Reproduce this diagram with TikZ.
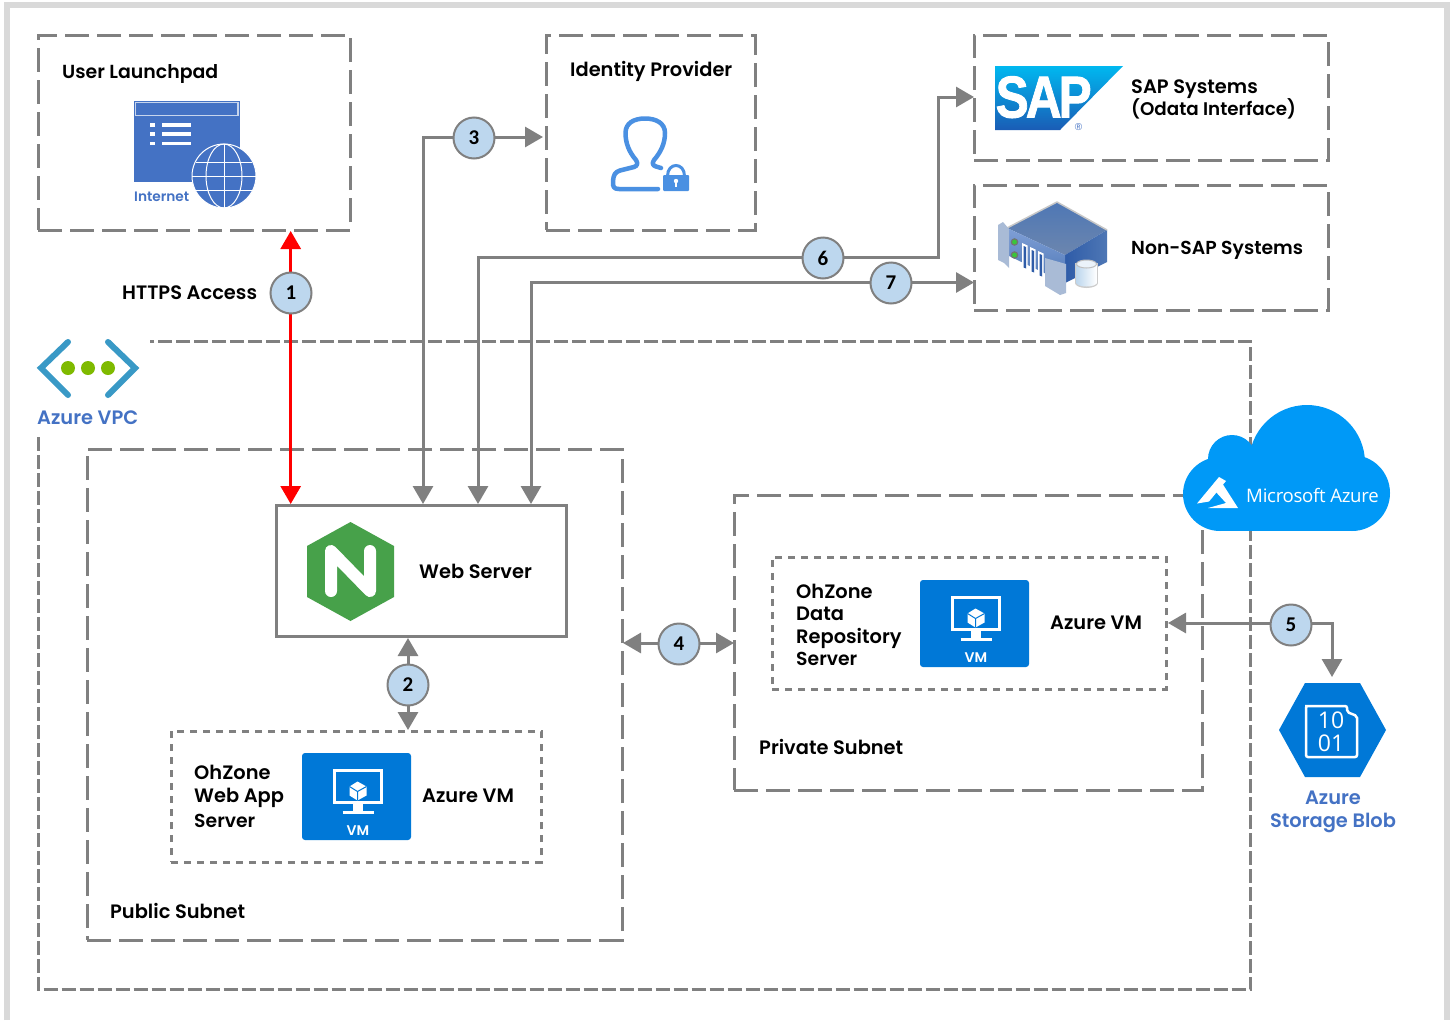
\documentclass[tikz,border=0pt]{standalone}
\usepackage{fontspec}
\setmainfont{Poppins SemiBold}
\newfontfamily\numfont{Carlito Bold}
\newfontfamily\msfont{Open Sans}
\newfontfamily\sapfont{Liberation Sans}
\usetikzlibrary{arrows.meta,calc}
\definecolor{cgray}{HTML}{808080}
\definecolor{ibluetext}{HTML}{4472C4}
\definecolor{azblue}{HTML}{0078D7}
\definecolor{cloudblue}{HTML}{0099F7}
\definecolor{numfill}{HTML}{BDD7EE}
\definecolor{lockblue}{HTML}{4A90E2}
\definecolor{vpcblue}{HTML}{3999C6}
\definecolor{vpcgreen}{HTML}{7FBA00}
\definecolor{nginxgreen}{HTML}{47A14A}
\definecolor{saptop}{HTML}{00B8F0}
\definecolor{sapbot}{HTML}{1A5CB5}
\definecolor{srvdark}{HTML}{2F5CA8}
\definecolor{srvmid}{HTML}{4E77B5}
\definecolor{srvtop}{HTML}{6C86AE}
\definecolor{srvfront}{HTML}{7F9FD6}
\definecolor{srvear}{HTML}{A9BBD6}
\tikzset{
  x=1pt,y=-1pt,
  zone/.style={draw=cgray,line width=3pt,dash pattern=on 24pt off 8pt,rectangle,inner sep=0pt,fill=none},
  dotzone/.style={draw=cgray,line width=3pt,dash pattern=on 7pt off 6pt,rectangle,inner sep=0pt},
  lbl/.style={anchor=base west,inner sep=0pt,font=\fontsize{19.4}{19.4}\selectfont,text=black},
  fs/.style={font=\fontsize{#1}{#1}\selectfont},
  bluelbl/.style={lbl,text=ibluetext},
  conn/.style={draw=cgray,line width=3pt,{Triangle[length=18pt,width=20pt]}-{Triangle[length=18pt,width=20pt]}},
  redconn/.style={draw=red,line width=3pt,{Triangle[length=18pt,width=20pt]}-{Triangle[length=18pt,width=20pt]}},
  num/.style={circle,draw=cgray,line width=2pt,fill=numfill,minimum size=41pt,inner sep=0pt,font=\numfont\fontsize{21}{21}\selectfont},
  vmicon/.pic={
    \fill[azblue,rounded corners=3pt] (-56.5,-43.5) rectangle (52.5,43.5);
    \draw[white,line width=3pt] (-24.5,-26.5) rectangle (23,6);
    \fill[white] (-6,7) rectangle (4,14);
    \draw[white,line width=3pt] (-16,16) -- (15,16);
    \fill[white] (-1,-15) -- (8,-10) -- (8,-1) -- (-1,4) -- (-9,-1) -- (-9,-10) -- cycle;
    \draw[azblue,line width=1pt] (-9,-10) -- (-1,-5) -- (8,-10) (-1,-5) -- (-1,4);
    \node[text=white,inner sep=0pt,font=\fontsize{14}{14}\selectfont] at (-0.5,34) {VM};
  }
}
\begin{document}
\begin{tikzpicture}
\useasboundingbox (0,0) rectangle (1453,1020);
\fill[white] (0,0) rectangle (1453,1020);
% outer frame
\draw[draw=black!15,line width=6pt] (7,1020) -- (7,5) -- (1447,5) -- (1447,1020);

% VPC frame
\draw[draw=cgray,line width=3pt,dash pattern=on 14pt off 4pt] (38,437) -- (38,989.5) -- (1250.5,989.5) -- (1250.5,341) -- (150,341);

% zones
\node[zone,minimum width=312pt,minimum height=195pt] (launch) at (194,132.5) {};
\node[zone,minimum width=209pt,minimum height=195pt] (idp) at (650.5,132.5) {};
\node[zone,minimum width=354pt,minimum height=125pt] (sap) at (1151,97.5) {};
\node[zone,minimum width=354pt,minimum height=125pt] (nonsap) at (1151,247.5) {};
\node[zone,minimum width=535pt,minimum height=491pt] (public) at (354.5,694.5) {};
\node[zone,minimum width=468pt,minimum height=295pt] (private) at (968,642.5) {};
\node[dotzone,minimum width=370pt,minimum height=131pt] (appzone) at (356,796.5) {};
\node[dotzone,minimum width=394pt,minimum height=132pt] (datazone) at (969,623) {};
\node[draw=cgray,line width=3pt,rectangle,inner sep=0pt,minimum width=290pt,minimum height=131pt] (web) at (421,570.5) {};

% anchors for connectors
\coordinate (w1) at (290.7,504);
\coordinate (l1) at (290.7,231);
\coordinate (w3) at (423,504);
\coordinate (i3) at (543,137);
\coordinate (k3) at (423,137);
\coordinate (w6) at (478,504);
\coordinate (k6a) at (478,257);
\coordinate (k6b) at (938,257);
\coordinate (k6c) at (938,97);
\coordinate (s6) at (974,97);
\coordinate (w7) at (531,504);
\coordinate (k7) at (531,282.5);
\coordinate (s7) at (974,282.5);
\coordinate (w2) at (408,638);
\coordinate (a2) at (408,730);
\coordinate (p4) at (623,643);
\coordinate (q4) at (734,643);
\coordinate (d5) at (1168,623);
\coordinate (k5) at (1332,623);
\coordinate (b5) at (1332,677);

% connectors
\draw[redconn] (l1) -- (w1);
\draw[conn] (w2) -- (a2);
\draw[conn] (w3) -- (k3) -- (i3);
\draw[conn] (w6) -- (k6a) -- (k6b) -- (k6c) -- (s6);
\draw[conn] (w7) -- (k7) -- (s7);
\draw[conn] (p4) -- (q4);
\draw[conn] (d5) -- (k5) -- (b5);

% number badges
\node[num] (n1) at (291,293) {1};
\node[num] (n2) at (408,685) {2};
\node[num] (n3) at (474,138) {3};
\node[num] (n4) at (679,644) {4};
\node[num] (n5) at (1291,625) {5};
\node[num] (n6) at (823,258) {6};
\node[num] (n7) at (891,283) {7};

% Internet icon
\fill[ibluetext] (134,101) rectangle (240,182);
\draw[white!70!ibluetext,line width=1.2pt] (135.5,102.5) rectangle (238,115.5);
\foreach \yy in {125,134,143.5}{
  \fill[white] (150,\yy-1.7) rectangle (155,\yy+1.7);
  \fill[white] (162,\yy-1.7) rectangle (191,\yy+1.7);
}
\fill[ibluetext] (224,176) circle (32);
\draw[white,line width=1pt] (224,176) circle (32);
\draw[white,line width=1pt] (224,176) ellipse (18 and 32);
\draw[white,line width=1pt] (224,144) -- (224,208) (192,176) -- (256,176) (196,162) -- (252,162) (196,190) -- (252,190);
\node[anchor=base west,inner sep=0pt,text=ibluetext,font=\fontsize{13.7}{13.7}\selectfont] (inet) at (134,201) {Internet};

% user lock icon
\draw[lockblue,line width=4.5pt,line join=round,line cap=round] (658,189) -- (619,189) .. controls (614,189) and (612.5,187) .. (613,181) .. controls (613.5,175) and (615,172) .. (620,170.5) -- (634,167) .. controls (637.5,166) and (638,163) .. (636,160) .. controls (629,152) and (625.5,143) .. (625.5,133) .. controls (625.5,123) and (634,118.5) .. (645,118.5) .. controls (656,118.5) and (665,123) .. (665,133) .. controls (665,143) and (661,152) .. (654,160) .. controls (652,163) and (652.5,165.5) .. (656,166.5) -- (661,168);
\fill[lockblue,rounded corners=1pt] (663,175) rectangle (689,191);
\draw[lockblue,line width=3pt] (667.5,176) .. controls (667.5,162) and (684.5,162) .. (684.5,176);
\fill[white] (676,181) circle (2.2);
\fill[white] (675,182) rectangle (677,187);

% SAP logo
\shade[top color=saptop,bottom color=sapbot] (995,66) -- (1123,66) -- (1060,130) -- (995,130) -- cycle;
\node[inner sep=0pt,text=white,font=\sapfont\bfseries\fontsize{59}{59}\selectfont,anchor=base west,xscale=.84,transform shape] (saptxt) at (995.5,117.5) {\addfontfeature{LetterSpace=-6,FakeBold=1.5}SAP};
\node[inner sep=0pt,text=ibluetext,font=\sapfont\fontsize{10}{10}\selectfont] (reg) at (1078.5,127.5) {®};

% server icon
\shade[top color=srvmid,bottom color=srvtop] (1057,202) -- (1107,230) -- (1065,255) -- (1007,228) -- cycle;
\shade[left color=srvdark,right color=srvmid] (1065,255) -- (1107,230) -- (1107,262) -- (1065,283) -- cycle;
\shade[top color=srvfront,bottom color=srvmid] (1007,228) -- (1065,255) -- (1065,283) -- (1007,255) -- cycle;
\draw[black!22,line width=1.5pt,line join=round] (1007,228) -- (1057,202) -- (1107,230);
\fill[srvear] (998,225) -- (1003,222) -- (1009,229) -- (1009,268) -- (1004,263) -- (998,260) -- cycle;
\fill[srvear] (1045,258) -- (1066,264) -- (1066,293) -- (1060,295) -- (1045,286) -- cycle;
\foreach \cy in {243,256}{
  \fill[black!55] (1014.5,\cy-1) circle (3.8);
  \fill[green!55!gray] (1014.5,\cy-1) circle (2.4);
}
\foreach \xx/\yy in {1022/243,1030/247,1038/251}{
  \fill[white] (\xx,\yy) -- (\xx+5.5,\yy+2.5) -- (\xx+5.5,\yy+28) -- (\xx,\yy+25.5) -- cycle;
  \fill[srvdark] (\xx+1.5,\yy+3) -- (\xx+4,\yy+4) -- (\xx+4,\yy+25.5) -- (\xx+1.5,\yy+24.5) -- cycle;
}
\fill[black!20] (1075,263) rectangle (1098,283);
\fill[black!20] (1086.5,283) ellipse (11.5 and 5);
\shade[left color=numfill,right color=white] (1076.5,264) rectangle (1096.5,283);
\shade[left color=numfill,right color=white] (1086.5,283) ellipse (10 and 3.5);
\fill[white!70!numfill,draw=black!25,line width=1pt] (1086.5,264) ellipse (10 and 4);

% VPC icon
\draw[draw=vpcblue,line width=6pt,line cap=round,line join=miter] (68,342) -- (41,368) -- (68,395);
\draw[draw=vpcblue,line width=6pt,line cap=round,line join=miter] (108,342) -- (135,368) -- (108,395);
\foreach \xx in {68,88,108}{\fill[vpcgreen] (\xx,368) circle (7);}

% nginx icon
\fill[nginxgreen] (350.5,522) -- (394,546) -- (394,597) -- (350.5,621) -- (307,597) -- (307,546) -- cycle;
\draw[white,line width=12pt,line cap=round,line join=round] (331,591) -- (331,551) -- (370,591) -- (370,551);

% VM icons
\pic at (358.5,796.5) {vmicon};
\pic at (976.5,623.5) {vmicon};

% cloud (over the frames)
\fill[cloudblue] (1307,463) circle (58);
\fill[cloudblue] (1232,459) circle (24);
\fill[cloudblue] (1220,494) circle (37);
\fill[cloudblue] (1352,493) circle (38);
\fill[cloudblue] (1220,460) rectangle (1352,531);
\fill[white] (1219,477) -- (1197,503.5) -- (1209,501.5) -- (1226,481) -- cycle;
\fill[white] (1222,483) -- (1238,508) -- (1208,508) -- (1226,503) -- (1215,491) -- cycle;
\node[inner sep=0pt,anchor=base west,text=white,font=\msfont\fontsize{18.6}{18.6}\selectfont] (mstxt) at (1246,502) {\addfontfeature{LetterSpace=-1.5}Microsoft Azure};

% blob icon
\fill[azblue] (1279,730) -- (1305,683) -- (1360,683) -- (1386,730) -- (1360,777) -- (1305,777) -- cycle;
\draw[white,line width=2.5pt,rounded corners=2pt] (1307,706) -- (1347,706) -- (1347,712) -- (1357,716) -- (1357,757) -- (1306,757) -- (1306,706) -- cycle;
\node[inner sep=0pt,text=white,font=\msfont\fontsize{23}{23}\selectfont] (b10) at (1331,720) {10};
\node[inner sep=0pt,text=white,font=\msfont\fontsize{23}{23}\selectfont] (b01) at (1331,743) {01};

% labels
\node[lbl,fs=18.9] (tlaunch) at (62,78) {User Launchpad};
\node[lbl] (tidp) at (570,76) {Identity Provider};
\node[lbl] (tsap1) at (1131,93) {SAP Systems};
\node[lbl,fs=18.3] (tsap2) at (1131,115) {(Odata Interface)};
\node[lbl,fs=18.8] (tnon) at (1131,254) {Non-SAP Systems};
\node[lbl] (thttps) at (122,299) {HTTPS Access};
\node[lbl] (tweb) at (419,578) {Web Server};
\node[lbl] (tapp1) at (194,779) {OhZone};
\node[lbl] (tapp2) at (194,802) {Web App};
\node[lbl,fs=18.8] (tapp3) at (194,827) {Server};
\node[lbl] (tvm1) at (422,802) {Azure VM};
\node[lbl] (tdat1) at (796,598) {OhZone};
\node[lbl] (tdat2) at (796,620) {Data};
\node[lbl] (tdat3) at (796,643) {Repository};
\node[lbl,fs=18.8] (tdat4) at (796,665) {Server};
\node[lbl] (tvm2) at (1050,629) {Azure VM};
\node[lbl] (tpub) at (110,918) {Public Subnet};
\node[lbl] (tpri) at (759,754) {Private Subnet};
\node[bluelbl] (tvpc) at (37,424) {Azure VPC};
\node[bluelbl,anchor=base] (tblob1) at (1333,804) {Azure};
\node[bluelbl,anchor=base] (tblob2) at (1333,827) {Storage Blob};
\end{tikzpicture}
\end{document}
